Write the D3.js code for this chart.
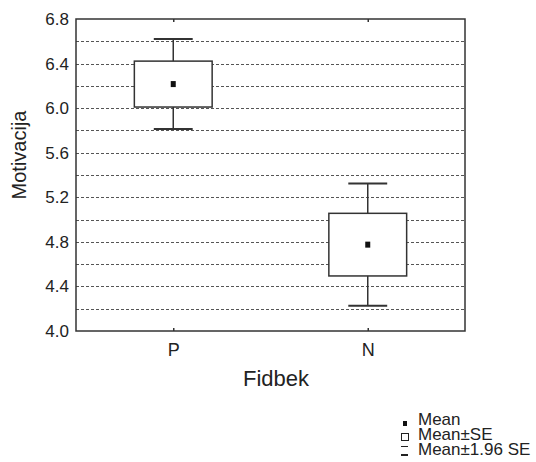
<!DOCTYPE html>
<html>
<head>
<meta charset="utf-8">
<script src="https://cdn.jsdelivr.net/npm/d3@7"></script>
<style>
body { margin: 0; background: #fff; }
text { font-family: Arial, "Liberation Sans", sans-serif; fill: #222; }
</style>
</head>
<body>
<svg id="chart" width="536" height="462"></svg>
<script>
// values
var groups = ["P", "N"];
var means = [6.216, 4.775];
var seLow = [6.010, 4.494];
var seHigh = [6.422, 5.056];
var ciLow = [5.812, 4.226];
var ciHigh = [6.620, 5.323];
var yTicks = [4.0, 4.4, 4.8, 5.2, 5.6, 6.0, 6.4, 6.8];
var gridVals = [4.2, 4.4, 4.6, 4.8, 5.0, 5.2, 5.4, 5.6, 5.8, 6.0, 6.2, 6.4, 6.6];
var legendItems = ["Mean", "Mean\u00b1SE", "Mean\u00b11.96 SE"];

var LEFT = 76, RIGHT = 465, TOP = 19, BOTTOM = 331;
var svg = d3.select("#chart");

var y = d3.scaleLinear().domain([4.0, 6.8]).range([BOTTOM, TOP]);
var x = d3.scalePoint().domain(groups).range([LEFT, RIGHT]).padding(0.5);
var boxW = (RIGHT - LEFT) * 0.2;

// grid lines
svg.append("g").selectAll("line").data(gridVals).enter().append("line")
    .attr("x1", LEFT).attr("x2", RIGHT)
    .attr("y1", function(d) { return Math.round(y(d)) + 0.5; })
    .attr("y2", function(d) { return Math.round(y(d)) + 0.5; })
    .attr("stroke", "#555").attr("stroke-width", 1)
    .attr("stroke-dasharray", "3,2");

// boxes and whiskers
var g = svg.append("g").selectAll("g").data(groups).enter().append("g");
g.append("line")
    .attr("x1", function(d) { return x(d); }).attr("x2", function(d) { return x(d); })
    .attr("y1", function(d, i) { return y(ciHigh[i]); })
    .attr("y2", function(d, i) { return y(ciLow[i]); })
    .attr("stroke", "#333").attr("stroke-width", 1.5);
g.append("line")
    .attr("x1", function(d) { return x(d) - boxW / 4; }).attr("x2", function(d) { return x(d) + boxW / 4; })
    .attr("y1", function(d, i) { return y(ciHigh[i]); })
    .attr("y2", function(d, i) { return y(ciHigh[i]); })
    .attr("stroke", "#333").attr("stroke-width", 2);
g.append("line")
    .attr("x1", function(d) { return x(d) - boxW / 4; }).attr("x2", function(d) { return x(d) + boxW / 4; })
    .attr("y1", function(d, i) { return y(ciLow[i]); })
    .attr("y2", function(d, i) { return y(ciLow[i]); })
    .attr("stroke", "#333").attr("stroke-width", 2);
g.append("rect")
    .attr("x", function(d) { return x(d) - boxW / 2; })
    .attr("width", boxW)
    .attr("y", function(d, i) { return y(seHigh[i]); })
    .attr("height", function(d, i) { return y(seLow[i]) - y(seHigh[i]); })
    .attr("fill", "#fff").attr("stroke", "#333").attr("stroke-width", 1.5);
g.append("rect")
    .attr("x", function(d) { return x(d) - 2.5; })
    .attr("y", function(d, i) { return y(means[i]) - 3; })
    .attr("width", 5).attr("height", 6)
    .attr("fill", "#111");

// frame
svg.append("rect")
    .attr("x", LEFT).attr("y", TOP)
    .attr("width", RIGHT - LEFT).attr("height", BOTTOM - TOP)
    .attr("fill", "none").attr("stroke", "#333").attr("stroke-width", 1.5);

// axes
var yAxis = svg.append("g").attr("transform", "translate(" + LEFT + ",0)")
    .call(d3.axisLeft(y).tickValues(yTicks).tickFormat(d3.format(".1f")).tickSize(0).tickPadding(7));
yAxis.select(".domain").remove();
yAxis.selectAll("text").attr("font-size", 17).attr("fill", "#222");

var xAxis = svg.append("g").attr("transform", "translate(0," + BOTTOM + ")")
    .call(d3.axisBottom(x).tickSize(-3).tickPadding(12));
xAxis.select(".domain").remove();
xAxis.selectAll("line").attr("stroke", "#333").attr("stroke-width", 1.5);
xAxis.selectAll("text").attr("font-size", 18).attr("fill", "#222");

var topAxis = svg.append("g").attr("transform", "translate(0," + TOP + ")")
    .call(d3.axisTop(x).tickSize(-3).tickFormat(""));
topAxis.select(".domain").remove();
topAxis.selectAll("line").attr("stroke", "#333").attr("stroke-width", 1.5);

// axis titles
svg.append("text")
    .attr("x", 276).attr("y", 386)
    .attr("text-anchor", "middle").attr("font-size", 22)
    .text("Fidbek");
svg.append("text")
    .attr("transform", "translate(26,155) rotate(-90)")
    .attr("text-anchor", "middle").attr("font-size", 20)
    .text("Motivacija");

// legend
var lg = svg.append("g").attr("transform", "translate(401,0)");
lg.selectAll("text").data(legendItems).enter().append("text")
    .attr("x", 17)
    .attr("y", function(d, i) { return 425 + i * 15; })
    .attr("font-size", 17)
    .text(function(d) { return d; });
lg.append("rect").attr("x", 2).attr("y", 421).attr("width", 4).attr("height", 5).attr("fill", "#111");
lg.append("rect").attr("x", 0.5).attr("y", 433.5).attr("width", 7).attr("height", 7)
    .attr("fill", "#fff").attr("stroke", "#222").attr("stroke-width", 1);
lg.append("line").attr("x1", 0).attr("x2", 7).attr("y1", 446.5).attr("y2", 446.5)
    .attr("stroke", "#222").attr("stroke-width", 1);
lg.append("line").attr("x1", 0).attr("x2", 7).attr("y1", 455).attr("y2", 455)
    .attr("stroke", "#222").attr("stroke-width", 2);
</script>
</body>
</html>
